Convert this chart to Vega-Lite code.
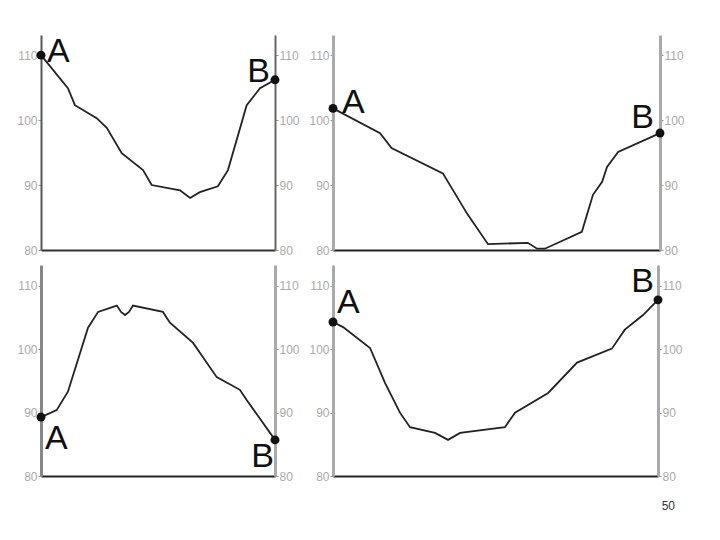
{
  "$schema": "https://vega.github.io/schema/vega-lite/v6.json",
  "background": "white",
  "padding": {"left": 16, "top": 35, "right": 5, "bottom": 5},
  "bounds": "flush",
  "align": "each",
  "columns": 2,
  "spacing": {"row": 15, "column": 58},
  "title": {"text": "50", "orient": "bottom", "anchor": "end", "fontSize": 12, "fontWeight": "normal", "color": "#333", "font": "Liberation Sans", "offset": 19, "dx": -9},
  "config": {
    "view": {"stroke": null},
    "axis": {"grid": false},
    "axisX": {"labels": false, "ticks": false, "domainColor": "#222", "domainWidth": 2, "minExtent": 0, "maxExtent": 0},
    "axisY": {"labelColor": "#aaa", "labelFont": "Liberation Sans", "labelFontSize": 12, "tickSize": 3, "tickColor": "#999", "labelPadding": 1, "domainColor": "#aaa", "domainWidth": 3},
    "line": {"color": "#222", "strokeWidth": 1.8},
    "point": {"filled": true, "color": "#111", "size": 80, "opacity": 1},
    "text": {"font": "Liberation Sans", "fontSize": 34, "color": "#111"}
  },
  "concat": [
    {
      "width": 234, "height": 215,
      "data": {"values": [
        {"d": 0, "h": 110.0, "pt": "A"},
        {"d": 11.5, "h": 104.9},
        {"d": 14.5, "h": 102.3},
        {"d": 23.8, "h": 100.3},
        {"d": 28.1, "h": 98.8},
        {"d": 34.5, "h": 94.9},
        {"d": 43.6, "h": 92.3},
        {"d": 47.3, "h": 90.0},
        {"d": 59.4, "h": 89.2},
        {"d": 63.7, "h": 88.0},
        {"d": 67.9, "h": 88.9},
        {"d": 75.6, "h": 89.8},
        {"d": 79.9, "h": 92.3},
        {"d": 87.9, "h": 102.3},
        {"d": 93.6, "h": 104.9},
        {"d": 100, "h": 106.2, "pt": "B"}
      ]},
      "layer": [
        {"mark": "line", "encoding": {
          "x": {"field": "d", "type": "quantitative", "scale": {"domain": [0, 100], "nice": false, "zero": false}, "axis": {"title": null, "domainColor": "#333"}},
          "y": {"field": "h", "type": "quantitative", "scale": {"domain": [80, 113.1], "nice": false, "zero": false}, "axis": {"title": null, "values": [80, 90, 100, 110], "domainColor": "#555", "domainWidth": 2}}}},
        {"transform": [{"filter": "datum.pt"}], "mark": "point", "encoding": {
          "x": {"field": "d", "type": "quantitative"},
          "y": {"field": "h", "type": "quantitative", "scale": {"domain": [80, 113.1], "nice": false, "zero": false}, "axis": {"title": null, "orient": "right", "values": [80, 90, 100, 110], "domainColor": "#666", "domainWidth": 2}}}},
        {"transform": [{"filter": "datum.pt === 'A'"}], "mark": {"type": "text", "align": "left", "baseline": "alphabetic", "dx": 6, "dy": 7}, "encoding": {
          "x": {"field": "d", "type": "quantitative"},
          "y": {"field": "h", "type": "quantitative", "scale": {"domain": [80, 113.1], "nice": false, "zero": false}, "axis": null},
          "text": {"field": "pt"}}},
        {"transform": [{"filter": "datum.pt === 'B'"}], "mark": {"type": "text", "align": "right", "baseline": "alphabetic", "dx": -5, "dy": 2}, "encoding": {
          "x": {"field": "d", "type": "quantitative"},
          "y": {"field": "h", "type": "quantitative", "scale": {"domain": [80, 113.1], "nice": false, "zero": false}, "axis": null},
          "text": {"field": "pt"}}}
      ],
      "resolve": {"scale": {"y": "independent"}}
    },
    {
      "width": 327, "height": 215,
      "data": {"values": [
        {"d": 0, "h": 101.8, "pt": "A"},
        {"d": 14.4, "h": 98.0},
        {"d": 17.9, "h": 95.7},
        {"d": 33.6, "h": 91.8},
        {"d": 41.0, "h": 85.6},
        {"d": 47.4, "h": 80.9},
        {"d": 59.6, "h": 81.1},
        {"d": 62.4, "h": 80.2},
        {"d": 64.8, "h": 80.2},
        {"d": 76.1, "h": 82.8},
        {"d": 79.5, "h": 88.5},
        {"d": 82.3, "h": 90.5},
        {"d": 83.8, "h": 92.8},
        {"d": 87.2, "h": 95.1},
        {"d": 100, "h": 98.0, "pt": "B"}
      ]},
      "layer": [
        {"mark": "line", "encoding": {
          "x": {"field": "d", "type": "quantitative", "scale": {"domain": [0, 100], "nice": false, "zero": false}, "axis": {"title": null}},
          "y": {"field": "h", "type": "quantitative", "scale": {"domain": [80, 113.1], "nice": false, "zero": false}, "axis": {"title": null, "values": [80, 90, 100, 110]}}}},
        {"transform": [{"filter": "datum.pt"}], "mark": "point", "encoding": {
          "x": {"field": "d", "type": "quantitative"},
          "y": {"field": "h", "type": "quantitative", "scale": {"domain": [80, 113.1], "nice": false, "zero": false}, "axis": {"title": null, "orient": "right", "values": [80, 90, 100, 110]}}}},
        {"transform": [{"filter": "datum.pt === 'A'"}], "mark": {"type": "text", "align": "left", "baseline": "alphabetic", "dx": 9, "dy": 5}, "encoding": {
          "x": {"field": "d", "type": "quantitative"},
          "y": {"field": "h", "type": "quantitative", "scale": {"domain": [80, 113.1], "nice": false, "zero": false}, "axis": null},
          "text": {"field": "pt"}}},
        {"transform": [{"filter": "datum.pt === 'B'"}], "mark": {"type": "text", "align": "right", "baseline": "alphabetic", "dx": -6, "dy": -5}, "encoding": {
          "x": {"field": "d", "type": "quantitative"},
          "y": {"field": "h", "type": "quantitative", "scale": {"domain": [80, 113.1], "nice": false, "zero": false}, "axis": null},
          "text": {"field": "pt"}}}
      ],
      "resolve": {"scale": {"y": "independent"}}
    },
    {
      "width": 234, "height": 211,
      "data": {"values": [
        {"d": 0, "h": 89.3, "pt": "A"},
        {"d": 6.7, "h": 90.4},
        {"d": 11.5, "h": 93.3},
        {"d": 20.1, "h": 103.4},
        {"d": 24.4, "h": 105.9},
        {"d": 32.4, "h": 106.9},
        {"d": 34.2, "h": 105.9},
        {"d": 35.9, "h": 105.4},
        {"d": 37.6, "h": 105.9},
        {"d": 39.3, "h": 106.9},
        {"d": 52.1, "h": 105.9},
        {"d": 55.1, "h": 104.2},
        {"d": 65.0, "h": 101.0},
        {"d": 75.1, "h": 95.6},
        {"d": 85.0, "h": 93.6},
        {"d": 87.9, "h": 92.0},
        {"d": 100, "h": 85.7, "pt": "B"}
      ]},
      "layer": [
        {"mark": "line", "encoding": {
          "x": {"field": "d", "type": "quantitative", "scale": {"domain": [0, 100], "nice": false, "zero": false}, "axis": {"title": null}},
          "y": {"field": "h", "type": "quantitative", "scale": {"domain": [80, 113.3], "nice": false, "zero": false}, "axis": {"title": null, "values": [80, 90, 100, 110], "domainColor": "#888"}}}},
        {"transform": [{"filter": "datum.pt"}], "mark": "point", "encoding": {
          "x": {"field": "d", "type": "quantitative"},
          "y": {"field": "h", "type": "quantitative", "scale": {"domain": [80, 113.3], "nice": false, "zero": false}, "axis": {"title": null, "orient": "right", "values": [80, 90, 100, 110]}}}},
        {"transform": [{"filter": "datum.pt === 'A'"}], "mark": {"type": "text", "align": "left", "baseline": "top", "dx": 4, "dy": 5}, "encoding": {
          "x": {"field": "d", "type": "quantitative"},
          "y": {"field": "h", "type": "quantitative", "scale": {"domain": [80, 113.3], "nice": false, "zero": false}, "axis": null},
          "text": {"field": "pt"}}},
        {"transform": [{"filter": "datum.pt === 'B'"}], "mark": {"type": "text", "align": "right", "baseline": "top", "dx": -1, "dy": 0}, "encoding": {
          "x": {"field": "d", "type": "quantitative"},
          "y": {"field": "h", "type": "quantitative", "scale": {"domain": [80, 113.3], "nice": false, "zero": false}, "axis": null},
          "text": {"field": "pt"}}}
      ],
      "resolve": {"scale": {"y": "independent"}}
    },
    {
      "width": 325, "height": 211,
      "data": {"values": [
        {"d": 0, "h": 104.3, "pt": "A"},
        {"d": 3.1, "h": 103.5},
        {"d": 11.4, "h": 100.2},
        {"d": 16.0, "h": 94.7},
        {"d": 20.6, "h": 90.0},
        {"d": 23.7, "h": 87.7},
        {"d": 31.4, "h": 86.8},
        {"d": 35.4, "h": 85.7},
        {"d": 39.1, "h": 86.8},
        {"d": 52.9, "h": 87.7},
        {"d": 56.0, "h": 90.0},
        {"d": 66.2, "h": 93.1},
        {"d": 75.1, "h": 97.9},
        {"d": 85.8, "h": 100.1},
        {"d": 89.8, "h": 103.1},
        {"d": 95.4, "h": 105.4},
        {"d": 100, "h": 107.8, "pt": "B"}
      ]},
      "layer": [
        {"mark": "line", "encoding": {
          "x": {"field": "d", "type": "quantitative", "scale": {"domain": [0, 100], "nice": false, "zero": false}, "axis": {"title": null}},
          "y": {"field": "h", "type": "quantitative", "scale": {"domain": [80, 113.3], "nice": false, "zero": false}, "axis": {"title": null, "values": [80, 90, 100, 110]}}}},
        {"transform": [{"filter": "datum.pt"}], "mark": "point", "encoding": {
          "x": {"field": "d", "type": "quantitative"},
          "y": {"field": "h", "type": "quantitative", "scale": {"domain": [80, 113.3], "nice": false, "zero": false}, "axis": {"title": null, "orient": "right", "values": [80, 90, 100, 110]}}}},
        {"transform": [{"filter": "datum.pt === 'A'"}], "mark": {"type": "text", "align": "left", "baseline": "alphabetic", "dx": 4, "dy": -9}, "encoding": {
          "x": {"field": "d", "type": "quantitative"},
          "y": {"field": "h", "type": "quantitative", "scale": {"domain": [80, 113.3], "nice": false, "zero": false}, "axis": null},
          "text": {"field": "pt"}}},
        {"transform": [{"filter": "datum.pt === 'B'"}], "mark": {"type": "text", "align": "right", "baseline": "alphabetic", "dx": -4, "dy": -8}, "encoding": {
          "x": {"field": "d", "type": "quantitative"},
          "y": {"field": "h", "type": "quantitative", "scale": {"domain": [80, 113.3], "nice": false, "zero": false}, "axis": null},
          "text": {"field": "pt"}}}
      ],
      "resolve": {"scale": {"y": "independent"}}
    }
  ]
}
